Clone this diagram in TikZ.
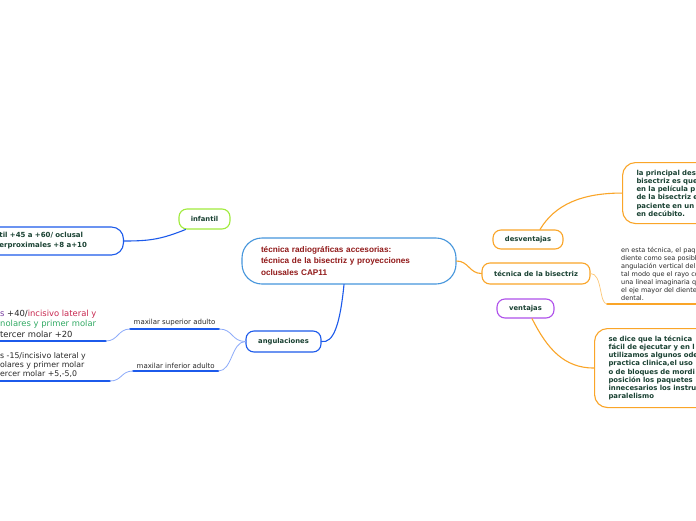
\documentclass[tikz,border=0pt]{standalone}
\usepackage{fontspec}
\setmainfont{DejaVu Sans}
\newfontfamily\titulofont{Liberation Sans}

\definecolor{azulrama}{RGB}{28,90,235}
\definecolor{azulclaro}{RGB}{70,150,220}
\definecolor{azulsuave}{RGB}{140,170,250}
\definecolor{naranja}{RGB}{250,165,40}
\definecolor{naranjaclaro}{RGB}{253,200,120}
\definecolor{verdelima}{RGB}{160,235,60}
\definecolor{morado}{RGB}{175,80,235}
\definecolor{verdetexto}{RGB}{25,65,50}
\definecolor{rojotitulo}{RGB}{145,25,25}
\definecolor{grisoscuro}{RGB}{40,40,40}
\definecolor{moradotexto}{RGB}{120,60,160}
\definecolor{carmesi}{RGB}{200,40,80}
\definecolor{verdemolar}{RGB}{50,170,100}

\begin{document}
\begin{tikzpicture}[x=1pt, y=-1pt, line cap=round, line join=round,
	tema/.style={draw, line width=1.1pt, rounded corners=8pt, text=verdetexto, font=\fontsize{6.8}{8}\selectfont\bfseries, inner sep=0pt},
	caja/.style={draw, line width=1.1pt, rounded corners=13pt, text=verdetexto, font=\fontsize{6.9}{8.25}\selectfont\bfseries, align=left, inner xsep=14pt, inner ysep=0pt},
	etiqueta/.style={inner xsep=3.5pt, inner ysep=2.5pt, text=grisoscuro, font=\fontsize{7}{8}\selectfont},
	bloque/.style={align=left, inner xsep=0pt, inner ysep=3pt},
	conector/.style={line width=1.1pt},
	subrayado/.style={line width=1.6pt}]
		
		% Ventana de dibujo
		\useasboundingbox (0,0) rectangle (696,520);
		\fill[white] (0,0) rectangle (696,520);
		\clip (0,0) rectangle (696,520);
		
		% Tema central
		\node[tema, draw=azulclaro, rounded corners=20pt, minimum height=46pt, text width=176pt, inner xsep=19pt, align=left, text=rojotitulo, font=\titulofont\fontsize{8.2}{11.5}\selectfont\bfseries] (central) at (349,261) {técnica radiográficas accesorias:\\técnica de la bisectriz y proyecciones\\oclusales CAP11};
		
		% Ramas principales
		\node[tema, draw=azulrama, minimum width=75pt, minimum height=21pt] (angul) at (283.5,341.5) {angulaciones};
		\node[tema, draw=verdelima, minimum width=51pt, minimum height=20pt] (infantil) at (204.5,219) {infantil};
		\node[tema, draw=naranja, minimum width=70pt, minimum height=19pt] (desv) at (528,239.5) {desventajas};
		\node[tema, draw=naranja, minimum width=108pt, minimum height=21pt] (bisec) at (536,273.5) {técnica de la bisectriz};
		\node[tema, draw=morado, minimum width=57pt, minimum height=19pt] (vent) at (525.5,308.5) {ventajas};
		
		% Cajas de texto a la derecha
		\node[caja, draw=naranja, anchor=north west, text width=110pt, minimum height=61pt] (desvtxt) at (622,162) {la principal des\\bisectriz es que\\en la película p\\de la bisectriz e\\paciente en un\\en decúbito.};
		\node[caja, draw=naranja, anchor=north west, text width=110pt, minimum height=79pt] (venttxt) at (594,328) {se dice que la técnica\\fácil de ejecutar y en l\\utilizamos algunos ode\\practica clinica,el uso\\o de bloques de mordi\\posición los paquetes\\innecesarios los instru\\paralelismo};
		
		% Texto de la bisectriz (subrayado)
		\node[bloque, anchor=south west, text width=100pt, inner xsep=14pt, font=\fontsize{6.5}{8}\selectfont, text=grisoscuro] (bisectxt) at (607,304) {en esta técnica, el paq\\diente como sea posibl\\angulación vertical del\\tal modo que el rayo co\\una lineal imaginaria q\\el eje mayor del diente\\dental.};
		\draw[subrayado, naranja] (bisectxt.south west) -- (bisectxt.south east);
		
		% Caja infantil (cortada a la izquierda)
		\node[caja, draw=azulrama, anchor=east, text width=100pt, inner xsep=24pt, minimum height=28pt, rounded corners=12pt, font=\fontsize{7}{10}\selectfont\bfseries] (infantxt) at (124,241) {til +45 a +60/ oclusal\\erproximales +8 a+10};
		
		% Maxilares
		\node[etiqueta, anchor=south west] (maxsup) at (130,329) {maxilar superior adulto};
		\draw[subrayado, azulrama] (maxsup.south west) -- (maxsup.south east);
		\node[etiqueta, anchor=south west] (maxinf) at (133,371) {maxilar inferior adulto};
		\draw[subrayado, azulrama] (maxinf.south west) -- (maxinf.south east);
		
		\node[bloque, anchor=south west, font=\fontsize{8.4}{10.7}\selectfont] (supertxt) at (0,341) {\textcolor{moradotexto}{s} \textcolor{grisoscuro}{+40/}\textcolor{carmesi}{incisivo lateral y}\\\textcolor{verdemolar}{nolares y primer molar}\\\textcolor{grisoscuro}{tercer molar +20}};
		\draw[subrayado, azulrama] (supertxt.south west) -- ++(106,0) coordinate (superfin);
		
		\node[bloque, anchor=south west, font=\fontsize{7.8}{9.3}\selectfont, text=grisoscuro] (infertxt) at (0,381) {s -15/incisivo lateral y\\olares y primer molar\\ercer molar +5,-5,0};
		\draw[subrayado, azulrama] (infertxt.south west) -- ++(110,0) coordinate (inferfin);
		
		% Conectores
		\draw[conector, azulrama] ([xshift=-5pt]central.south) .. controls +(-4,40) and +(12,2) .. (angul.east);
		\draw[conector, naranja] (central.east) .. controls +(12,0) and +(-12,0) .. (bisec.west);
		\draw[conector, naranjaclaro, line width=0.7pt] (bisec.east) .. controls +(12,0) and +(-8,0) .. (bisectxt.south west);
		\draw[conector, naranja] ([xshift=12pt]desv.north) .. controls +(15,-25) and +(-40,0) .. (desvtxt.west);
		\draw[conector, naranja] ([xshift=6.5pt]vent.south) .. controls +(15,30) and +(-30,0) .. (venttxt.west);
		\draw[conector, azulrama] ([xshift=-19pt]infantil.south) .. controls +(-25,10) and +(25,0) .. (infantxt.east);
		\draw[conector, azulsuave, line width=0.8pt] (angul.west) .. controls +(-14,0) and +(14,0) .. (maxsup.south east);
		\draw[conector, azulsuave, line width=0.8pt] (angul.west) .. controls +(-14,0) and +(14,0) .. (maxinf.south east);
		\draw[conector, azulsuave, line width=0.8pt] (maxsup.south west) .. controls +(-12,0) and +(12,0) .. (superfin);
		\draw[conector, azulsuave, line width=0.8pt] (maxinf.south west) .. controls +(-12,0) and +(12,0) .. (inferfin);
		
	\end{tikzpicture}
\end{document}
